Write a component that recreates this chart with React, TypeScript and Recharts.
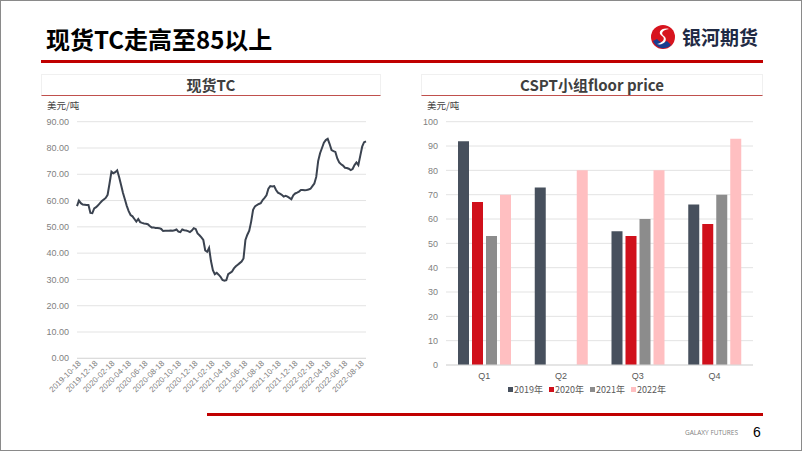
import {
  LineChart,
  Line,
  BarChart,
  Bar,
  XAxis,
  YAxis,
  CartesianGrid,
  Legend,
} from "recharts";

// 现货TC，周度，起点 2019-10-18
const tcStart = "2019-10-18";
const tcValues = [
  57.9, 60, 59, 58.5, 58.4, 58.3, 58.3, 55.3, 55.2, 57, 57.5, 58.2, 59, 59.8, 60.4, 61,
  62.2, 66.5, 71, 70.4, 70.8, 71.5, 69, 66, 63, 60.5, 58, 56, 54.5, 54, 53, 52,
  53, 51.8, 51.5, 51.3, 51.2, 51, 50.3, 49.8, 49.8, 49.6, 49.6, 49.5, 49.2, 48.4, 48.5, 48.5,
  48.5, 48.6, 48.5, 48.7, 49, 48.2, 48, 49, 48.7, 48.6, 48.4, 48, 48.6, 49.5, 49.2, 47.5,
  46.8, 46, 45, 41, 40.5, 42, 37, 33.5, 32, 32.5, 31.8, 31, 29.8, 29.5, 29.7, 32,
  32.5, 33, 34.2, 35, 35.6, 36.2, 36.8, 38, 45, 47, 48.5, 52, 56.5, 57.8, 58.3, 58.7,
  59, 60.2, 61, 62, 64.5, 65.5, 65.4, 65.5, 64, 63, 62.6, 62.2, 61.5, 61.8, 61.5, 61,
  60.5, 62, 62.7, 63, 63.4, 64, 64, 63.9, 64, 64.2, 64.5, 65.5, 66.5, 69, 75, 78,
  80, 82, 83, 83.5, 81.5, 79.2, 78.8, 78.5, 76, 74.5, 73.8, 73.3, 72.5, 72.4, 72.1, 71.6,
  72, 73.5, 74.5, 73.5, 77, 80.5, 82.2, 82.5,
];
const tcTickLabels = [
  "2019-10-18", "2019-12-18", "2020-02-18", "2020-04-18", "2020-06-18", "2020-08-18",
  "2020-10-18", "2020-12-18", "2021-02-18", "2021-04-18", "2021-06-18", "2021-08-18",
  "2021-10-18", "2021-12-18", "2022-02-18", "2022-04-18", "2022-06-18", "2022-08-18",
];
const tcYTicks = [0, 10, 20, 30, 40, 50, 60, 70, 80, 90];

// CSPT小组 floor price
const quarters = ["Q1", "Q2", "Q3", "Q4"];
const floor2019 = [92, 73, 55, 66];
const floor2020 = [67, null, 53, 58];
const floor2021 = [53, null, 60, 70];
const floor2022 = [70, 80, 80, 93];
const floorYTicks = [0, 10, 20, 30, 40, 50, 60, 70, 80, 90, 100];

const DAY = 86400000;
const startMs = Date.parse(tcStart);
const tcData = tcValues.map((v, i) => ({ t: startMs + i * 7 * DAY, tc: v }));
const tcTicks = tcTickLabels.map((s) => Date.parse(s));

const floorData = quarters.map((q, i) => ({
  q,
  y2019: floor2019[i],
  y2020: floor2020[i],
  y2021: floor2021[i],
  y2022: floor2022[i],
}));

const cjk = '"Noto Sans CJK SC", "Noto Sans", sans-serif';
const num = '"Liberation Sans", Arial, sans-serif';

function DateTick(props: any) {
  const { x, y, payload } = props;
  const label = new Date(payload.value).toISOString().slice(0, 10);
  return (
    <text
      x={x + 3}
      y={y + 2}
      transform={`rotate(-45, ${x + 3}, ${y + 2})`}
      textAnchor="end"
      dominantBaseline="middle"
      fontSize={8}
      fill="#7f7f7f"
      fontFamily={num}
    >
      {label}
    </text>
  );
}

function FloorLegend(props: any) {
  const { payload } = props;
  return (
    <div style={{ display: "flex", justifyContent: "center", gap: 6, fontSize: 9, fontFamily: num, color: "#595959" }}>
      {payload.map((p: any) => (
        <span key={p.value} style={{ display: "flex", alignItems: "center" }}>
          <span style={{ display: "inline-block", width: 5, height: 5, background: p.color, marginRight: 1 }} />
          <span style={{ fontFamily: cjk }}>{p.value}</span>
        </span>
      ))}
    </div>
  );
}

function Logo() {
  return (
    <svg width={28} height={28} viewBox="0 0 28 28" style={{ position: "absolute", left: 648, top: 22 }}>
      <circle cx={14} cy={14} r={12} fill="#d7141e" />
      <path d="M4 18 A11 11 0 0 0 22 22 L18 18 A7 7 0 0 1 8 16 Z" fill="#1a3d8f" />
      <path d="M20 6 C12 4 8 10 13 13 C17 15 14 20 8 21 C14 23 20 17 15 13 C11 10 14 7 20 6 Z" fill="#fff" />
    </svg>
  );
}

function PanelTitle({ left, width, text }: { left: number; width: number; text: string }) {
  return (
    <div
      style={{
        position: "absolute",
        left,
        top: 73,
        width,
        height: 22,
        borderTop: "1px solid #f0f0f0",
        borderLeft: "1px solid #f0f0f0",
        borderRight: "1px solid #f0f0f0",
        borderBottom: "1.5px solid #c0504d",
        boxSizing: "border-box",
        textAlign: "center",
        fontFamily: cjk,
        fontWeight: 700,
        fontSize: 15,
        lineHeight: "20px",
        color: "#3f3f3f",
      }}
    >
      {text}
    </div>
  );
}

export default function App() {
  return (
    <div
      style={{
        position: "absolute",
        left: 0,
        top: 0,
        width: 802,
        height: 451,
        background: "#fff",
        border: "1.5px solid #8a8a8a",
        boxSizing: "border-box",
        overflow: "hidden",
        fontFamily: cjk,
      }}
    >
      <div
        style={{
          position: "absolute",
          left: 45,
          top: 20,
          fontSize: 24,
          fontWeight: 700,
          color: "#000",
        }}
      >
        现货TC走高至85以上
      </div>
      <Logo />
      <div
        style={{
          position: "absolute",
          left: 681,
          top: 22,
          fontSize: 19,
          fontWeight: 700,
          color: "#1f2a44",
        }}
      >
        银河期货
      </div>
      <div style={{ position: "absolute", left: 40, top: 59, width: 722, height: 2.5, background: "#c00000" }} />

      <PanelTitle left={40} width={340} text="现货TC" />
      <PanelTitle left={420} width={342} text="CSPT小组floor price" />

      <div style={{ position: "absolute", left: 46, top: 97, fontSize: 9.5, color: "#404040" }}>美元/吨</div>
      <div style={{ position: "absolute", left: 426, top: 97, fontSize: 9.5, color: "#404040" }}>美元/吨</div>

      <div style={{ position: "absolute", left: 40, top: 110 }}>
        <LineChart
          width={340}
          height={290}
          data={tcData}
          margin={{ top: 10.7, right: 15, left: 0, bottom: 0 }}
        >
          <CartesianGrid vertical={false} stroke="#e3e3e3" />
          <XAxis
            dataKey="t"
            type="number"
            domain={[startMs, tcData[tcData.length - 1].t]}
            ticks={tcTicks}
            tick={<DateTick />}
            tickLine={false}
            tickSize={0}
            axisLine={{ stroke: "#d9d9d9" }}
            height={42.7}
            interval={0}
          />
          <YAxis
            domain={[0, 90]}
            ticks={tcYTicks}
            tickFormatter={(v) => v.toFixed(2)}
            tick={{ fontSize: 9, fill: "#7f7f7f", fontFamily: num }}
            axisLine={false}
            tickLine={false}
            width={36}
          />
          <Line
            type="linear"
            dataKey="tc"
            stroke="#3b4350"
            strokeWidth={2}
            dot={false}
            isAnimationActive={false}
          />
        </LineChart>
      </div>

      <div style={{ position: "absolute", left: 420, top: 110 }}>
        <BarChart
          width={342}
          height={300}
          data={floorData}
          margin={{ top: 10.7, right: 10, left: 0, bottom: 14 }}
          barGap={3}
        >
          <CartesianGrid vertical={false} stroke="#e3e3e3" />
          <XAxis
            dataKey="q"
            tick={{ fontSize: 9, fill: "#595959", fontFamily: num }}
            tickLine={false}
            axisLine={{ stroke: "#d9d9d9" }}
            height={18}
          />
          <YAxis
            domain={[0, 100]}
            ticks={floorYTicks}
            tick={{ fontSize: 9, fill: "#7f7f7f", fontFamily: num }}
            axisLine={false}
            tickLine={false}
            width={25}
          />
          <Legend height={14} content={<FloorLegend />} />
          <Bar dataKey="y2019" name="2019年" fill="#47505d" barSize={11} isAnimationActive={false} />
          <Bar dataKey="y2020" name="2020年" fill="#d0101b" barSize={11} isAnimationActive={false} />
          <Bar dataKey="y2021" name="2021年" fill="#8c8c8c" barSize={11} isAnimationActive={false} />
          <Bar dataKey="y2022" name="2022年" fill="#ffbfc1" barSize={11} isAnimationActive={false} />
        </BarChart>
      </div>

      <div style={{ position: "absolute", left: 206, top: 412, width: 556, height: 3, background: "#c00000" }} />
      <div
        style={{
          position: "absolute",
          left: 684,
          top: 427,
          fontSize: 6.5,
          color: "#7f7f7f",
          fontFamily: '"Open Sans", sans-serif',
        }}
      >
        GALAXY FUTURES
      </div>
      <div style={{ position: "absolute", left: 752, top: 423, fontSize: 14, color: "#000", fontFamily: num }}>6</div>
    </div>
  );
}
